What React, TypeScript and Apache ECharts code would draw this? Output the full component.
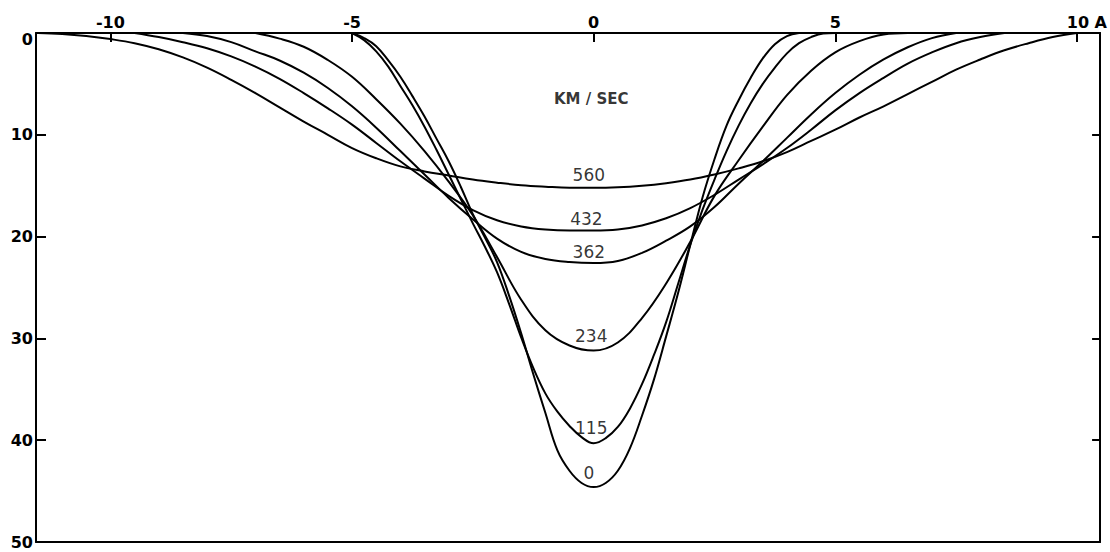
import { useEffect, useRef } from "react";
import * as echarts from "echarts";

// Axis ticks
const xTicks = [-10, -5, 0, 5, 10];

// Series: depth (y) vs wavelength offset (x, Å), one per rotational velocity (km/sec)
const v0: [number, number][] = [[-5.0,0],[-4.75,0.5],[-4.5,1.3],[-4.25,2.7],[-4.0,4.3],[-3.75,6.2],[-3.5,8.2],[-3.25,10.4],[-3.0,12.6],[-2.75,15.1],[-2.5,17.8],[-2.25,20.1],[-2.0,22.5],[-1.75,25.8],[-1.5,29.5],[-1.25,33.5],[-1.0,37.3],[-0.75,41.0],[-0.5,43.0],[-0.25,44.2],[0,44.6],[0.25,44.2],[0.5,43.0],[0.75,40.8],[1.0,37.6],[1.25,34.0],[1.5,29.8],[1.75,25.5],[2.0,20.8],[2.25,16.2],[2.5,12.4],[2.75,9.1],[3.0,6.6],[3.25,4.4],[3.5,2.5],[3.75,1.1],[4.0,0.3],[4.25,0]];
const v115: [number, number][] = [[-5.0,0],[-4.75,0.7],[-4.5,1.8],[-4.25,3.3],[-4.0,5.2],[-3.75,7.1],[-3.5,9.2],[-3.25,11.5],[-3.0,13.9],[-2.75,16.3],[-2.5,18.7],[-2.25,21.0],[-2.0,23.5],[-1.75,26.6],[-1.5,29.9],[-1.25,32.9],[-1.0,35.4],[-0.75,37.2],[-0.5,38.6],[-0.25,39.7],[0,40.3],[0.25,39.8],[0.5,38.7],[0.75,36.9],[1.0,34.5],[1.25,31.6],[1.5,28.4],[1.75,24.6],[2.0,20.8],[2.25,17.4],[2.5,14.4],[2.75,11.6],[3.0,9.1],[3.25,6.9],[3.5,5.0],[3.75,3.4],[4.0,2.0],[4.25,1.0],[4.5,0.4],[4.75,0.05],[5.0,0]];
const v234: [number, number][] = [[-7.0,0],[-6.5,0.55],[-6.0,1.35],[-5.5,2.65],[-5.0,4.3],[-4.5,6.5],[-4.0,8.9],[-3.5,11.6],[-3.0,14.6],[-2.5,17.9],[-2.0,22.0],[-1.5,26.2],[-1.0,29.2],[-0.5,30.7],[0,31.2],[0.5,30.4],[1.0,28.0],[1.5,24.6],[2.0,20.5],[2.5,16.0],[3.0,12.5],[3.5,9.2],[4.0,6.1],[4.5,3.7],[5.0,1.9],[5.5,0.8],[6.0,0.15],[6.5,0]];
const v362: [number, number][] = [[-8.5,0],[-8.0,0.3],[-7.5,0.9],[-7.0,1.8],[-6.5,2.7],[-6.0,3.9],[-5.5,5.4],[-5.0,7.2],[-4.5,9.3],[-4.0,11.6],[-3.5,13.9],[-3.0,16.2],[-2.5,18.3],[-2.0,20.2],[-1.5,21.5],[-1.0,22.2],[-0.5,22.5],[0,22.6],[0.5,22.4],[1.0,21.6],[1.5,20.4],[2.0,19.0],[2.5,17.1],[3.0,14.8],[3.5,12.6],[4.0,10.3],[4.5,8.0],[5.0,5.9],[5.5,4.1],[6.0,2.6],[6.5,1.4],[7.0,0.5],[7.5,0]];
const v432: [number, number][] = [[-9.5,0],[-9.0,0.4],[-8.5,0.9],[-8.0,1.5],[-7.5,2.3],[-7.0,3.3],[-6.5,4.5],[-6.0,5.9],[-5.5,7.4],[-5.0,9.0],[-4.5,10.8],[-4.0,12.6],[-3.5,14.3],[-3.0,16.0],[-2.5,17.4],[-2.0,18.4],[-1.5,19.0],[-1.0,19.3],[-0.5,19.4],[0,19.4],[0.5,19.3],[1.0,18.9],[1.5,18.2],[2.0,17.2],[2.5,15.9],[3.0,14.4],[3.5,12.9],[4.0,11.3],[4.5,9.5],[5.0,7.6],[5.5,5.9],[6.0,4.4],[6.5,3.0],[7.0,1.9],[7.5,1.0],[8.0,0.4],[8.5,0]];
const v560: [number, number][] = [[-11.5,0],[-11.0,0.1],[-10.5,0.3],[-10.0,0.6],[-9.5,1.0],[-9.0,1.6],[-8.5,2.4],[-8.0,3.4],[-7.5,4.6],[-7.0,5.9],[-6.5,7.3],[-6.0,8.7],[-5.5,10.0],[-5.0,11.3],[-4.5,12.3],[-4.0,13.1],[-3.5,13.6],[-3.0,14.0],[-2.5,14.4],[-2.0,14.7],[-1.5,14.95],[-1.0,15.1],[-0.5,15.2],[0,15.2],[0.5,15.15],[1.0,15.0],[1.5,14.75],[2.0,14.4],[2.5,13.9],[3.0,13.3],[3.5,12.6],[4.0,11.7],[4.5,10.6],[5.0,9.5],[5.5,8.3],[6.0,7.2],[6.5,6.0],[7.0,4.8],[7.5,3.6],[8.0,2.6],[8.5,1.7],[9.0,1.0],[9.5,0.4],[10.0,0]];

const seriesNames = ["0", "115", "234", "362", "432", "560"];
const seriesData = [v0, v115, v234, v362, v432, v560];

// Curve labels placed in data coordinates
const labelTexts = ["0", "115", "234", "362", "432", "560"];
const labelX = [-0.1, -0.05, -0.05, -0.1, -0.15, -0.1];
const labelY = [43.2, 38.8, 29.8, 21.5, 18.3, 13.95];
const unitText = "KM / SEC";
const unitPos: [number, number] = [-0.05, 6.5];

const FONT = "DejaVu Sans";

export default function App() {
  const ref = useRef<HTMLDivElement>(null);
  useEffect(() => {
    const chart = echarts.init(ref.current!, null, { renderer: "svg" });
    const axisLineStyle = { color: "#000", width: 2 };
    const option: any = {
      animation: false,
      backgroundColor: "#fff",
      grid: { left: 36, right: 7, top: 33, bottom: 10, containLabel: false },
      xAxis: [
        {
          type: "value",
          position: "top",
          min: -11.54,
          max: 10.48,
          axisLine: { show: true, onZero: false, lineStyle: axisLineStyle },
          axisTick: { show: true, inside: true, length: 9, customValues: xTicks, lineStyle: axisLineStyle },
          axisLabel: {
            show: true,
            customValues: xTicks,
            margin: 3,
            color: "#000",
            fontFamily: FONT,
            fontWeight: "bold",
            fontSize: 16,
            formatter: (v: number) => (v === 10 ? "{sp|}10 A" : String(v)),
            rich: { sp: { width: 20 } },
          },
          splitLine: { show: false },
        },
        {
          type: "value",
          position: "bottom",
          min: -11.54,
          max: 10.48,
          axisLine: { show: true, onZero: false, lineStyle: axisLineStyle },
          axisTick: { show: false },
          axisLabel: { show: false },
          splitLine: { show: false },
        },
      ],
      yAxis: [
        {
          type: "value",
          position: "left",
          inverse: true,
          min: 0,
          max: 50,
          interval: 10,
          axisLine: { show: true, onZero: false, lineStyle: axisLineStyle },
          axisTick: { show: true, inside: true, length: 10, lineStyle: axisLineStyle },
          axisLabel: {
            margin: 3,
            color: "#000",
            fontFamily: FONT,
            fontWeight: "bold",
            fontSize: 16,
            formatter: (v: number) => (v === 0 ? "{z|0}" : String(v)),
            rich: { z: { padding: [12, 0, 0, 0] } },
          },
          splitLine: { show: false },
        },
        {
          type: "value",
          position: "right",
          inverse: true,
          min: 0,
          max: 50,
          interval: 10,
          axisLine: { show: true, onZero: false, lineStyle: axisLineStyle },
          axisTick: { show: true, inside: true, length: 8, lineStyle: axisLineStyle },
          axisLabel: { show: false },
          splitLine: { show: false },
        },
      ],
      series: [
        ...seriesData.map((d, i) => ({
          name: seriesNames[i],
          type: "line",
          xAxisIndex: 0,
          yAxisIndex: 0,
          data: d,
          showSymbol: false,
          symbol: "none",
          smooth: 0.4,
          lineStyle: { color: "#000", width: 2 },
          silent: true,
          z: 3,
        })),
        {
          type: "scatter",
          xAxisIndex: 0,
          yAxisIndex: 0,
          symbolSize: 0,
          itemStyle: { color: "#000" },
          silent: true,
          z: 5,
          label: {
            show: true,
            position: "inside",
            formatter: "{b}",
            color: "#000",
            fontFamily: FONT,
            fontSize: 17,
          },
          data: [
            ...labelTexts.map((t, i) => ({ name: t, value: [labelX[i], labelY[i]] })),
            {
              name: unitText,
              value: unitPos,
              label: { fontWeight: "bold", fontSize: 15, color: "#000" },
            },
          ],
        },
      ],
    };
    chart.setOption(option);
    return () => chart.dispose();
  }, []);
  return (
    <div
      ref={ref}
      style={{ position: "absolute", left: 0, top: 0, width: 1110, height: 552, background: "#fff" }}
    />
  );
}
